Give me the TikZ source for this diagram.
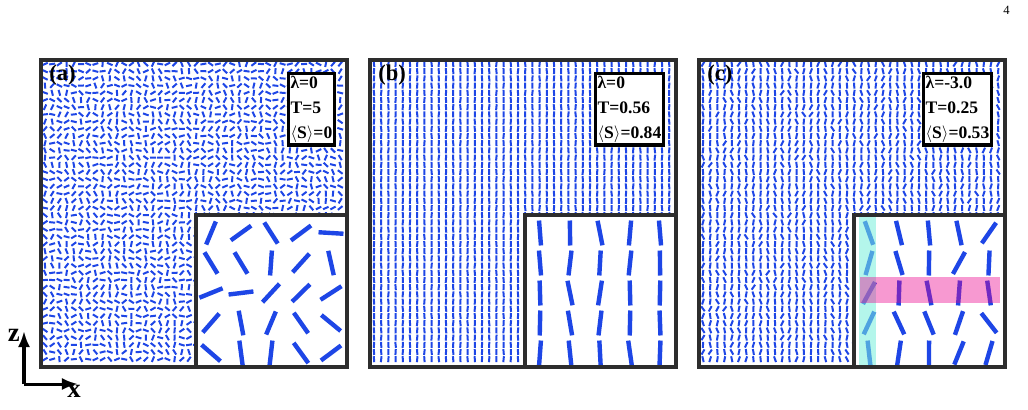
\documentclass[tikz,border=0pt]{standalone}
\usepackage{fontspec}
\setmainfont{Liberation Serif}
\usetikzlibrary{arrows.meta}
\definecolor{rodblue}{RGB}{30,70,230}
\definecolor{framegray}{RGB}{45,45,45}
\definecolor{stripcyan}{RGB}{120,240,220}
\tikzset{
  rod/.style={rodblue, line width=0.05cm},
  bigrod/.style={rodblue, line width=0.11cm},
  frame/.style={draw=framegray, line width=0.08cm},
  infobox/.style={draw=black, line width=0.08cm, fill=white, align=left, inner sep=1.5pt,
    font=\bfseries\fontsize{12.5}{18}\selectfont},
  panellabel/.style={font=\bfseries\fontsize{16}{18}\selectfont, anchor=north west, inner sep=0pt},
  axislabel/.style={font=\bfseries\fontsize{19}{19}\selectfont, inner sep=0pt},
}
\begin{document}
\begin{tikzpicture}[x=0.025cm, y=-0.025cm]
    \useasboundingbox (0,0) rectangle (1028,409);
    \pgfmathsetseed{7}
    \node[anchor=north east, font=\fontsize{9}{10}\selectfont, inner sep=0pt] (pagenum) at (1010,6) {4};
    % panels: left x, noise type
    \foreach \px/\kind in {41/0, 370/1, 699/2} {
      % small rods
      \foreach \i in {0,...,41} {
        \foreach \j in {0,...,41} {
          \ifcase\kind
            \pgfmathsetmacro\ang{180*rnd}
          \or
            \pgfmathsetmacro\ang{90+7*rand}
          \or
            \pgfmathsetmacro\ang{90+40*rand*sqrt(rnd)}
          \fi
          \draw[rod] ({\px+4+\i*7.2},{64+\j*7.2}) ++(\ang:3) -- ++(\ang+180:6);
        }
      }
      % inset
      \fill[white] ({\px+155},215) rectangle ({\px+306},367);
      \foreach \i in {0,...,4} {
        \foreach \j in {0,...,4} {
          \ifcase\kind
            \pgfmathsetmacro\ang{180*rnd}
          \or
            \pgfmathsetmacro\ang{90+12*rand}
          \or
            \pgfmathsetmacro\ang{90+50*rand*sqrt(rnd)}
          \fi
          \draw[bigrod] ({\px+170+\i*30},{233+\j*30}) ++(\ang:12.5) -- ++(\ang+180:25);
        }
      }
      \draw[frame] ({\px+155},215) rectangle ({\px+306},367);
      \draw[frame] (\px,60) rectangle ({\px+306},367);
    }
    % highlighted strips in (c)
    \fill[stripcyan, opacity=0.55] (859,217) rectangle (876,365);
    \fill[magenta, opacity=0.4] (860,277) rectangle (1000,303);
    % labels
    \node[panellabel] (la) at (49,65) {(a)};
    \node[panellabel] (lb) at (378,65) {(b)};
    \node[panellabel] (lc) at (707,65) {(c)};
    \node[infobox, anchor=north east] (ia) at (336,72) {λ=0\\T=5\\$\langle$S$\rangle$=0};
    \node[infobox, anchor=north east] (ib) at (665,72) {λ=0\\T=0.56\\$\langle$S$\rangle$=0.84};
    \node[infobox, anchor=north east] (ic) at (993,72) {λ=-3.0\\T=0.25\\$\langle$S$\rangle$=0.53};
    % axes
    \coordinate (origin) at (24,384);
    \coordinate (zend) at (24,331);
    \coordinate (xend) at (78,384);
    \draw[line width=0.075cm, -{Latex[length=0.4cm,width=0.3cm]}] (origin) -- (zend);
    \draw[line width=0.075cm, -{Latex[length=0.4cm,width=0.3cm]}] (origin) -- (xend);
    \node[axislabel, anchor=east] (zlab) at (20,335) {z};
    \node[axislabel, anchor=north] (xlab) at (74,385) {x};
\end{tikzpicture}
\end{document}
